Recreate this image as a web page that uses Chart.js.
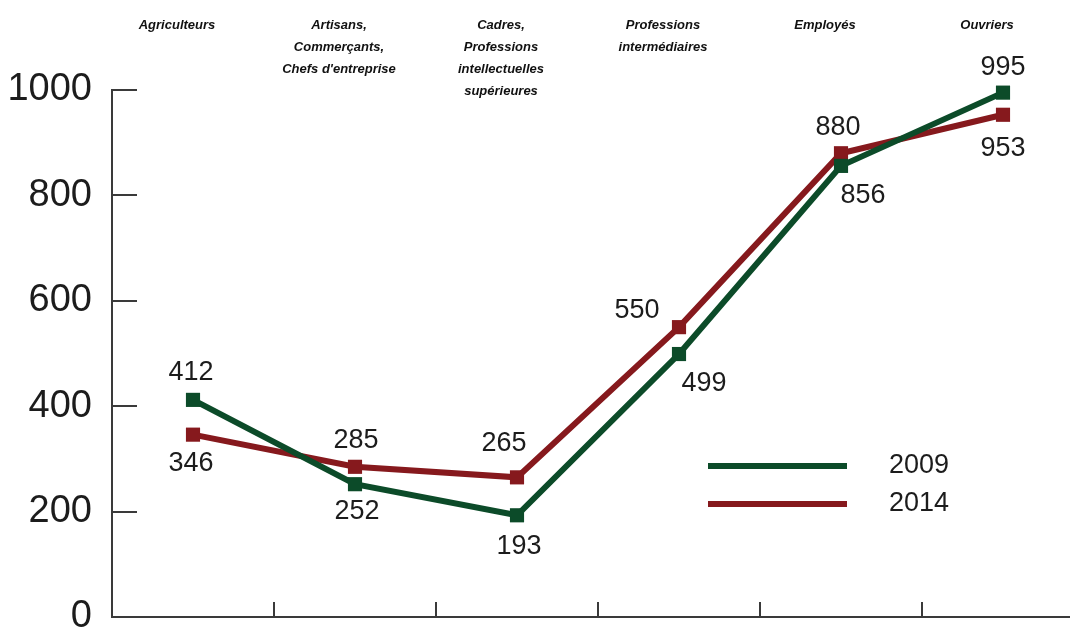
<!DOCTYPE html>
<html lang="fr">
<head>
    <meta charset="UTF-8">
    <title>2009 / 2014</title>
    <script src="https://cdn.jsdelivr.net/npm/chart.js"></script>
    <style>
        body {
            margin: 0;
            padding: 0;
            background: white;
            overflow: hidden;
        }
        .wrap {
            width: 1100px;
            height: 630px;
        }
        canvas {
            display: block;
        }
    </style>
</head>
<body>

    <div class="wrap">
        <canvas id="chart" width="1100" height="630"></canvas>
    </div>

    <script>
        // categories (shown on top of the chart)
        const categories = [
            ['Agriculteurs'],
            ['Artisans,', 'Commerçants,', "Chefs d'entreprise"],
            ['Cadres,', 'Professions', 'intellectuelles', 'supérieures'],
            ['Professions', 'intermédiaires'],
            ['Employés'],
            ['Ouvriers']
        ];
        const seriesLabels = ['2009', '2014'];
        const values2009 = [412, 252, 193, 499, 856, 995];
        const values2014 = [346, 285, 265, 550, 880, 953];
        const yTicks = [0, 200, 400, 600, 800, 1000];

        const GREEN = '#0c4b29';
        const RED = '#86191d';
        const INK = '#1c1c1c';
        const AXIS = '#3a3a3a';

        // where each value label sits relative to its point (dx, dy)
        const labelOffsets = [
            [[-2, -27], [2, 27], [2, 31], [25, 30], [22, 30], [0, -25]],
            [[-2, 29], [1, -26], [-13, -34], [-42, -17], [-3, -26], [0, 34]]
        ];

        // inward ticks on both axes
        const axisTicks = {
            id: 'axisTicks',
            afterDraw(chart) {
                const c = chart.ctx;
                const x = chart.scales.x;
                const y = chart.scales.y;
                const area = chart.chartArea;
                c.save();
                c.strokeStyle = AXIS;
                c.lineWidth = 2;
                c.beginPath();
                y.ticks.forEach((t, i) => {
                    const py = Math.round(y.getPixelForTick(i));
                    c.moveTo(area.left, py);
                    c.lineTo(area.left + 25, py);
                });
                for (let i = 1; i < categories.length; i++) {
                    const px = Math.round((x.getPixelForValue(i - 1) + x.getPixelForValue(i)) / 2);
                    c.moveTo(px, area.bottom);
                    c.lineTo(px, area.bottom - 15);
                }
                c.stroke();
                c.restore();
            }
        };

        // category names above the plot
        const topLabels = {
            id: 'topLabels',
            afterDraw(chart) {
                const c = chart.ctx;
                const x = chart.scales.x;
                c.save();
                c.fillStyle = '#111';
                c.font = 'italic bold 13px "Liberation Sans", Arial, sans-serif';
                c.textAlign = 'center';
                c.textBaseline = 'middle';
                categories.forEach((lines, i) => {
                    const px = x.getPixelForValue(i) - 16;
                    lines.forEach((line, j) => {
                        c.fillText(line, px, 25 + j * 22);
                    });
                });
                c.restore();
            }
        };

        // value labels next to each point
        const valueLabels = {
            id: 'valueLabels',
            afterDatasetsDraw(chart) {
                const c = chart.ctx;
                c.save();
                c.fillStyle = INK;
                c.font = '27px "Liberation Sans", Arial, sans-serif';
                c.textAlign = 'center';
                c.textBaseline = 'middle';
                chart.data.datasets.forEach((ds, d) => {
                    const meta = chart.getDatasetMeta(d);
                    meta.data.forEach((pt, i) => {
                        const off = labelOffsets[d][i];
                        c.fillText(String(ds.data[i]), pt.x + off[0], pt.y + off[1]);
                    });
                });
                c.restore();
            }
        };

        // legend drawn inside the plot, lower right
        const insideLegend = {
            id: 'insideLegend',
            afterDraw(chart) {
                const c = chart.ctx;
                c.save();
                c.font = '27px "Liberation Sans", Arial, sans-serif';
                c.textBaseline = 'middle';
                chart.data.datasets.forEach((ds, d) => {
                    const yy = 466 + d * 38;
                    c.strokeStyle = ds.borderColor;
                    c.lineWidth = 6;
                    c.beginPath();
                    c.moveTo(708, yy);
                    c.lineTo(847, yy);
                    c.stroke();
                    c.fillStyle = INK;
                    c.fillText(ds.label, 889, yy);
                });
                c.restore();
            }
        };

        new Chart(document.getElementById('chart'), {
            type: 'line',
            data: {
                labels: categories.map(l => l.join(' ')),
                datasets: [
                    {
                        label: seriesLabels[0],
                        data: values2009,
                        borderColor: GREEN,
                        backgroundColor: GREEN,
                        borderWidth: 6,
                        pointStyle: 'rect',
                        pointRadius: 10,
                        pointBorderWidth: 0,
                        tension: 0,
                        clip: false
                    },
                    {
                        label: seriesLabels[1],
                        data: values2014,
                        borderColor: RED,
                        backgroundColor: RED,
                        borderWidth: 6,
                        pointStyle: 'rect',
                        pointRadius: 10,
                        pointBorderWidth: 0,
                        tension: 0,
                        clip: false
                    }
                ]
            },
            options: {
                responsive: false,
                animation: false,
                layout: { padding: { top: 90, right: 16, left: 0, bottom: 0 } },
                scales: {
                    x: {
                        offset: true,
                        grid: { display: false },
                        border: { display: true, color: AXIS, width: 2 },
                        ticks: { display: false },
                        afterFit: s => { s.height = 13; s.paddingLeft = 0; s.paddingRight = 0; }
                    },
                    y: {
                        min: 0,
                        max: 1000,
                        afterBuildTicks: s => { s.ticks = yTicks.map(v => ({ value: v })); },
                        grid: { display: false },
                        border: { display: true, color: AXIS, width: 2 },
                        ticks: {
                            color: INK,
                            padding: 12,
                            font: { family: '"Liberation Sans", Arial, sans-serif', size: 38 },
                            callback: v => String(v)
                        },
                        afterFit: s => { s.width = 112; s.paddingTop = 0; s.paddingBottom = 0; }
                    }
                },
                plugins: {
                    legend: { display: false },
                    tooltip: { enabled: false }
                }
            },
            plugins: [axisTicks, topLabels, valueLabels, insideLegend]
        });
    </script>

</body>
</html>
